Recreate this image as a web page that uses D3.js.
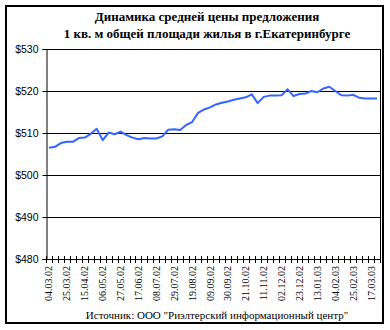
<!DOCTYPE html>
<html><head><meta charset="utf-8">
<script src="https://cdn.jsdelivr.net/npm/d3@7"></script>
<style>body{margin:0;background:#fff}</style>
</head><body>
<script>
const titleLines = ["Динамика средней цены предложения", "1 кв. м общей площади жилья в г.Екатеринбурге"];
const sourceText = "Источник: ООО \"Риэлтерский информационный центр\"";
const weeks = ["04.03.02","11.03.02","18.03.02","25.03.02","01.04.02","08.04.02","15.04.02","22.04.02","29.04.02","06.05.02",
"13.05.02","20.05.02","27.05.02","03.06.02","10.06.02","17.06.02","24.06.02","01.07.02","08.07.02","15.07.02",
"22.07.02","29.07.02","05.08.02","12.08.02","19.08.02","26.08.02","02.09.02","09.09.02","16.09.02","23.09.02",
"30.09.02","07.10.02","14.10.02","21.10.02","28.10.02","04.11.02","11.11.02","18.11.02","25.11.02","02.12.02",
"09.12.02","16.12.02","23.12.02","30.12.02","06.01.03","13.01.03","20.01.03","27.01.03","04.02.03","11.02.03",
"18.02.03","25.02.03","04.03.03","11.03.03","17.03.03","24.03.03"];
const prices = [506.5,506.7,507.6,507.9,507.9,508.8,508.9,509.8,511.0,508.3,
510.1,509.7,510.3,509.5,508.9,508.5,508.8,508.7,508.7,509.2,
510.8,510.9,510.7,511.9,512.6,514.8,515.6,516.1,516.8,517.2,
517.5,517.9,518.2,518.5,519.2,517.1,518.6,518.9,518.9,519.0,
520.4,518.8,519.3,519.4,520.0,519.7,520.6,521.0,520.0,519.0,
518.9,519.1,518.4,518.2,518.2,518.2];
const yTicks = [480,490,500,510,520,530];

const W = 390, H = 330;
const pLeft = 46, pRight = 380, pTop = 49, pBottom = 259;

const svg = d3.select("body").append("svg").attr("width", W).attr("height", H);

svg.append("rect").attr("x", 6).attr("y", 6).attr("width", 377).attr("height", 317)
  .attr("fill", "#fff").attr("stroke", "#000").attr("stroke-width", 2);

const x = d3.scaleBand().domain(weeks).range([pLeft, pRight]).padding(0);
const y = d3.scaleLinear().domain([480, 530]).range([pBottom, pTop]);

// gridlines
svg.append("g").selectAll("line").data(yTicks.slice(1)).join("line")
  .attr("x1", pLeft).attr("x2", pRight)
  .attr("y1", d => Math.round(y(d)) + 0.5).attr("y2", d => Math.round(y(d)) + 0.5)
  .attr("stroke", "#000").attr("stroke-width", 1);

// y axis
const yAxis = d3.axisLeft(y).tickValues(yTicks).tickSize(4).tickPadding(4).tickFormat(d => "$" + d);
const gy = svg.append("g").attr("transform", `translate(${pLeft + 0.5},0)`).call(yAxis);
gy.select(".domain").attr("stroke", "#000");
gy.selectAll(".tick line").attr("stroke", "#000");
gy.selectAll("text").attr("font-family", "Liberation Sans, Arial, sans-serif").attr("font-size", 10.5).attr("fill", "#000");

// x axis line
svg.append("line").attr("x1", pLeft).attr("x2", pRight).attr("y1", pBottom + 0.5).attr("y2", pBottom + 0.5)
  .attr("stroke", "#000");
// right plot edge
svg.append("line").attr("x1", pRight + 0.5).attr("x2", pRight + 0.5).attr("y1", pTop).attr("y2", pBottom)
  .attr("stroke", "#000");

// x tick marks at category boundaries
const bounds = weeks.map(w => x(w)).concat([pRight]);
svg.append("g").selectAll("line").data(bounds).join("line")
  .attr("x1", d => Math.round(d) + 0.5).attr("x2", d => Math.round(d) + 0.5)
  .attr("y1", pBottom - 3).attr("y2", pBottom + 4)
  .attr("stroke", "#000");

// x labels every third week
svg.append("g").selectAll("text").data(weeks.filter((w, i) => i % 3 === 0)).join("text")
  .attr("transform", d => `translate(${x(d) + x.bandwidth() / 2 + 3.5},${pBottom + 7}) rotate(-90)`)
  .attr("text-anchor", "end")
  .attr("font-family", "Liberation Serif, Times New Roman, serif").attr("font-size", 10)
  .text(d => d);

// line
const line = d3.line().x((d, i) => x(weeks[i]) + x.bandwidth() / 2).y(d => y(d));
svg.append("path").datum(prices).attr("d", line)
  .attr("fill", "none").attr("stroke", "#3366ff").attr("stroke-width", 2).attr("stroke-linejoin", "round");

// title
svg.append("g").selectAll("text").data(titleLines).join("text")
  .attr("x", 207).attr("y", (d, i) => 21 + i * 17)
  .attr("text-anchor", "middle")
  .attr("font-family", "Liberation Serif, Times New Roman, serif").attr("font-weight", "bold").attr("font-size", 13)
  .text(d => d);

// source
svg.append("text").attr("x", 217).attr("y", 319).attr("text-anchor", "middle")
  .attr("font-family", "Liberation Serif, Times New Roman, serif").attr("font-size", 11)
  .text(sourceText);
</script>
</body></html>
